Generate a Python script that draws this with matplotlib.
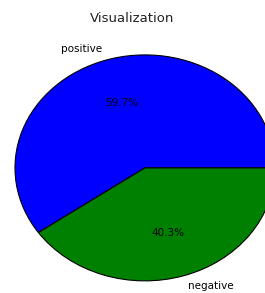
import matplotlib
matplotlib.use("Agg")
import matplotlib.pyplot as plt

labels = ['positive', 'negative']
sizes = [59.7, 40.3]
colors = ['b', 'g']

fig = plt.figure(figsize=(2.65, 2.93), dpi=100)
ax = fig.add_axes([-0.066, -0.055, 1.226, 0.964])
ax.pie(sizes, labels=labels, colors=colors, autopct='%1.1f%%',
       wedgeprops={'edgecolor': 'black', 'linewidth': 0.8},
       textprops={'fontsize': 7.5})
ax.set_aspect('auto')
ax.set_xlim(-1.25, 1.25)
ax.set_ylim(-1.25, 1.25)
fig.text(0.5, 0.938, 'Visualization', ha='center', va='center', fontsize=9.5, color='#222222')
fig.savefig('out.png', dpi=100)
